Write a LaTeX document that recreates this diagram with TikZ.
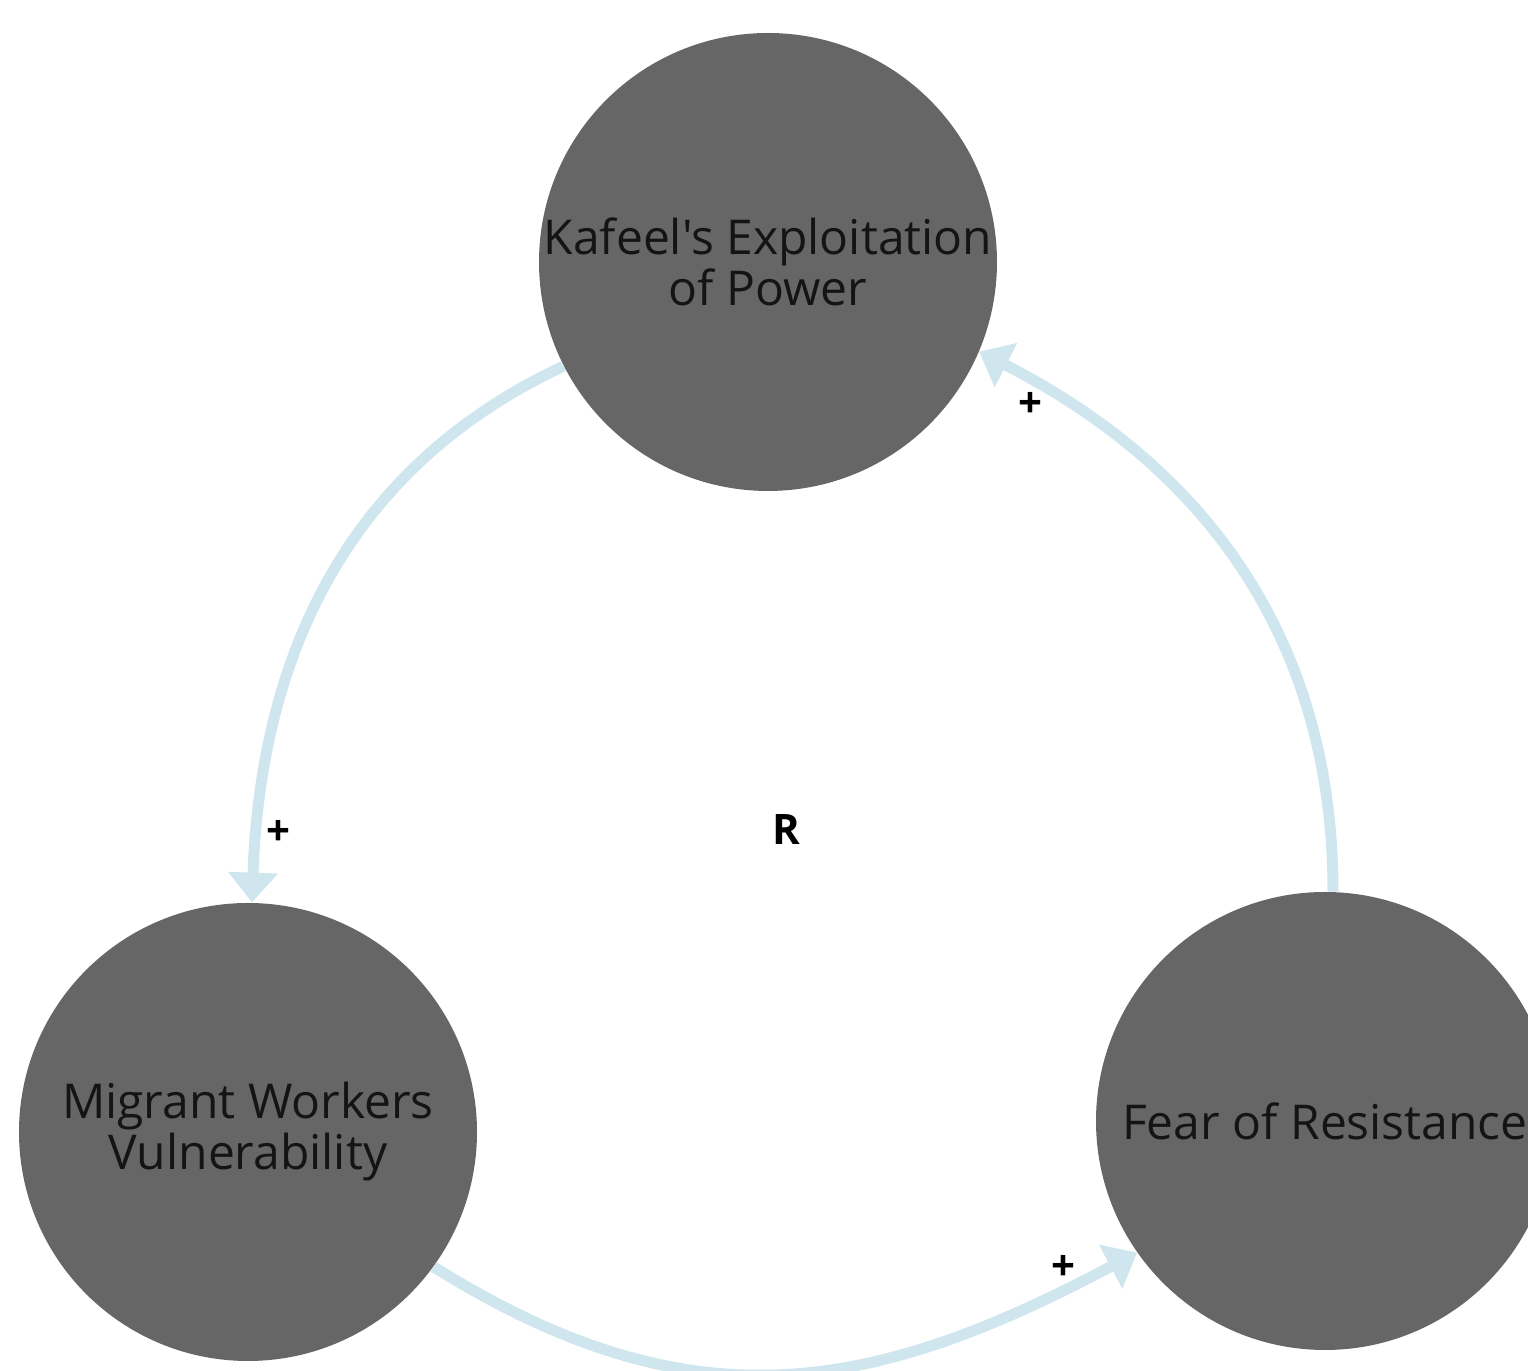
\documentclass[tikz,border=0pt]{standalone}
\usepackage{fontspec}
\newfontfamily\factorfont{Open Sans}
\usepackage{tikz}
\usetikzlibrary{arrows.meta}
\usetikzlibrary{positioning}
\usepackage{xcolor}
\definecolor{mygrey}{HTML}{666666}
\definecolor{myblue}{HTML}{D0E6EF}
\definecolor{myblack}{HTML}{141414}
\tikzset{x=0.5pt, y=0.5pt, every text node part/.style={align=center}}
\tikzstyle{factor} = [circle, fill=mygrey, minimum size=229pt, inner sep=0pt, text=myblack, font={\factorfont\fontsize{24}{25.5}\selectfont}]
\tikzstyle{ln} = [draw=myblue, line width=5.5pt, -{Triangle[length=15pt, width=24pt]}]
\tikzstyle{sign} = [text=black, font={\factorfont\fontsize{21}{21}\selectfont\bfseries}]

\begin{document}
\begin{tikzpicture}
  \clip (0,0) rectangle (1528,1371);
  \node[factor] (kafeel) at (768,1109) {Kafeel's Exploitation\\of Power};
  \node[factor] (migrant) at (248,239) {Migrant Workers\\Vulnerability};
  \node[factor] (fear) at (1325,250) {Fear of Resistance};
  \path[ln] (kafeel.207) to[out=205, in=88] (migrant.89);
  \path[ln] (migrant.-36) to[out=-32, in=208, looseness=1.1] (fear.215);
  \path[ln] (fear.88) to[out=90, in=-27] (kafeel.-23);
  \node[sign] (plus-1) at (278,538) {+};
  \node[sign] (plus-2) at (1063,103) {+};
  \node[sign] (plus-3) at (1030,966) {+};
  \node[sign] (loop) at (786,541) {R};
\end{tikzpicture}
\end{document}
